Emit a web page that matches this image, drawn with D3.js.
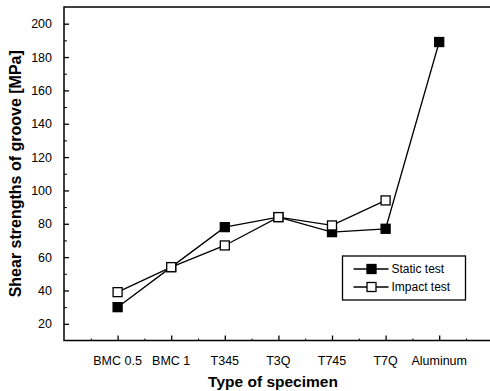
<!DOCTYPE html>
<html>
<head>
<meta charset="utf-8">
<script src="https://cdn.jsdelivr.net/npm/d3@7"></script>
<style>
  body { margin: 0; background: #fff; }
  text { font-family: "Liberation Sans", Arial, sans-serif; fill: #000; }
</style>
</head>
<body>
<div id="chart"></div>
<script>
// Data
const specimens = ["BMC 0.5", "BMC 1", "T345", "T3Q", "T745", "T7Q", "Aluminum"];
const staticTest = [30, 54, 78, 84, 75, 77, 189];
const impactTest = [39, 54, 67, 84, 79, 94];
const yTicks = [20, 40, 60, 80, 100, 120, 140, 160, 180, 200];

const width = 490, height = 391;
const plot = {left: 64, top: 7, bottom: 340.5};

const svg = d3.select("#chart")
  .append("svg")
  .attr("width", width)
  .attr("height", height);

// x is the position index 1..7 on a 0..8 range (right edge runs off the page)
const x = d3.scaleLinear()
  .domain([0, 8])
  .range([plot.left, plot.left + 8 * 53.6]);

const y = d3.scaleLinear()
  .domain([10, 210])
  .range([plot.bottom, plot.top]);

// Frame: left, top and bottom edges only
svg.append("path")
  .attr("d", `M${width},${y(210)}H${x(0)}V${y(10)}H${width}`)
  .attr("fill", "none")
  .attr("stroke", "#000")
  .attr("stroke-width", 1.5);

// Y axis (ticks inside)
svg.append("g")
  .attr("transform", `translate(${x(0)},0)`)
  .call(d3.axisRight(y).tickValues(yTicks).tickSize(5).tickFormat(""))
  .call(g => g.select(".domain").remove())
  .call(g => g.selectAll("line").attr("stroke-width", 1.3));

svg.append("g")
  .attr("transform", `translate(${x(0)},0)`)
  .call(d3.axisRight(y).tickValues(d3.range(30, 210, 20)).tickSize(3).tickFormat(""))
  .call(g => g.select(".domain").remove());

svg.append("g")
  .selectAll("text")
  .data(yTicks)
  .join("text")
  .attr("x", x(0) - 12)
  .attr("y", d => y(d))
  .attr("dy", "0.36em")
  .attr("text-anchor", "end")
  .style("font-size", "12.5px")
  .text(d => d);

// X axis (ticks inside)
svg.append("g")
  .attr("transform", `translate(0,${y(10)})`)
  .call(d3.axisTop(x).tickValues(d3.range(1, 8)).tickSize(5).tickFormat(""))
  .call(g => g.select(".domain").remove())
  .call(g => g.selectAll("line").attr("stroke-width", 1.3));

svg.append("g")
  .attr("transform", `translate(0,${y(10)})`)
  .call(d3.axisTop(x).tickValues(d3.range(0.5, 8, 1)).tickSize(2).tickFormat(""))
  .call(g => g.select(".domain").remove());

svg.append("g")
  .selectAll("text")
  .data(specimens)
  .join("text")
  .attr("x", (d, i) => x(i + 1))
  .attr("y", 360)
  .attr("dy", "0.36em")
  .attr("text-anchor", "middle")
  .style("font-size", "12.5px")
  .text(d => d);

// Axis titles
svg.append("text")
  .attr("x", 273)
  .attr("y", 387)
  .attr("text-anchor", "middle")
  .style("font-size", "15.5px")
  .style("font-weight", "bold")
  .text("Type of specimen");

svg.append("text")
  .attr("transform", `translate(21,${(y(10) + y(210)) / 2}) rotate(-90)`)
  .attr("text-anchor", "middle")
  .style("font-size", "16px")
  .style("font-weight", "bold")
  .text("Shear strengths of groove [MPa]");

// Series
const series = [
  {name: "Static test", values: staticTest, fill: "#000"},
  {name: "Impact test", values: impactTest, fill: "#fff"}
];

const line = d3.line()
  .x((d, i) => x(i + 1))
  .y(d => y(d));

const ms = 9;

series.forEach(s => {
  svg.append("path")
    .datum(s.values)
    .attr("d", line)
    .attr("fill", "none")
    .attr("stroke", "#000")
    .attr("stroke-width", 1.3);
});

series.forEach(s => {
  svg.append("g")
    .selectAll("rect")
    .data(s.values)
    .join("rect")
    .attr("x", (d, i) => x(i + 1) - ms / 2)
    .attr("y", d => y(d) - ms / 2)
    .attr("width", ms)
    .attr("height", ms)
    .attr("fill", s.fill)
    .attr("stroke", "#000")
    .attr("stroke-width", 1.3);
});

// Legend
const legend = svg.append("g").attr("transform", "translate(342.5,256)");

legend.append("rect")
  .attr("width", 123)
  .attr("height", 44)
  .attr("fill", "#fff")
  .attr("stroke", "#000")
  .attr("stroke-width", 1.3);

const legendRow = legend.selectAll("g")
  .data(series)
  .join("g")
  .attr("transform", (d, i) => `translate(0,${13 + i * 18})`);

legendRow.append("line")
  .attr("x1", 11)
  .attr("x2", 46)
  .attr("stroke", "#000")
  .attr("stroke-width", 1.3);

legendRow.append("rect")
  .attr("x", 29 - 4.5)
  .attr("y", -4.5)
  .attr("width", 9)
  .attr("height", 9)
  .attr("fill", d => d.fill)
  .attr("stroke", "#000")
  .attr("stroke-width", 1.3);

legendRow.append("text")
  .attr("x", 49)
  .attr("dy", "0.36em")
  .style("font-size", "12px")
  .text(d => d.name);
</script>
</body>
</html>
